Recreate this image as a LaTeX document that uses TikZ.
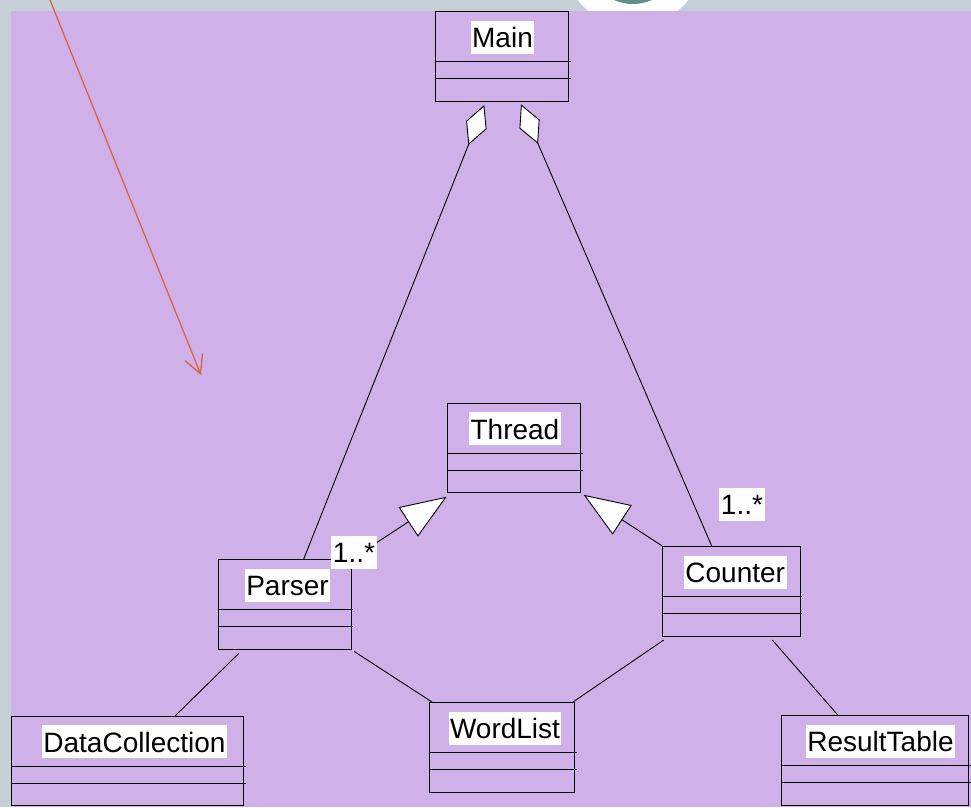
\documentclass[tikz,border=0pt]{standalone}
\usepackage{fontspec}
\setmainfont{Liberation Sans}
\usetikzlibrary{arrows.meta}

\definecolor{frameGrey}{HTML}{C5D0D6}
\definecolor{slidePurple}{HTML}{D0B0E8}
\definecolor{ringTeal}{HTML}{648C8C}
\definecolor{pointerRed}{HTML}{D9653F}

\tikzset{
  classframe/.style={draw=black, line width=1pt, inner sep=0pt,
    minimum height=89.5pt, anchor=north west},
  classrule/.style={draw=black, line width=0.9pt},
  classname/.style={fill=white, inner xsep=1.5pt, inner ysep=0pt,
    text height=27pt, text depth=6pt, font=\fontsize{28}{32}\selectfont,
    anchor=north},
  multlabel/.style={fill=white, inner xsep=1.5pt, inner ysep=0pt,
    text height=27pt, text depth=6pt, font=\fontsize{28}{32}\selectfont},
  assoc/.style={draw=black, line width=0.9pt},
  aggregation/.style={assoc, -{Diamond[fill=white, length=43pt, width=22pt]}},
  generalization/.style={assoc, -{Triangle[fill=white, length=46pt, width=35pt]}},
  pointer/.style={draw=pointerRed, line width=1.3pt,
    -{Straight Barb[length=18pt, width=19pt]}}
}

% UML class: name, x, y (top left), width, title, title x offset
\newcommand\classbox[6]{%
  \node[classframe, minimum width=#4pt] (#1) at (#2,#3) {};
  \draw[classrule] ([yshift=-50.5pt]#1.north west) -- ++(#4+2.5,0);
  \draw[classrule] ([yshift=-67.5pt]#1.north west) -- ++(#4+2.5,0);
  \node[classname] (#1-name) at ([xshift=#6pt, yshift=-9.3pt]#1.north) {#5};
}

\begin{document}
\begin{tikzpicture}[x=1pt, y=-1pt]
  \useasboundingbox (0,0) rectangle (971,807);

  % slide frame and logo
  \fill[frameGrey] (0,0) rectangle (971,807);
  \fill[white] (633,-43) circle[radius=70];
  \draw[ringTeal, line width=4pt] (633,-43) circle[radius=45];
  \fill[slidePurple] (11,11) rectangle (971,807);

  % pointer arrow
  \coordinate (pointer-start) at (50,0);
  \coordinate (pointer-end) at (201,375);
  \draw[pointer] (pointer-start) -- (pointer-end);

  % classes
  \classbox{main}{435}{11}{133}{Main}{0.5}
  \classbox{thread}{447}{402.7}{133.3}{Thread}{0.8}
  \classbox{parser}{217.7}{559}{133}{Parser}{2.8}
  \classbox{counter}{662.3}{546}{137.4}{Counter}{3.7}
  \classbox{datacoll}{11}{715.7}{232.3}{DataCollection}{6.8}
  \classbox{wordlist}{429}{702}{145}{WordList}{3}
  \classbox{result}{781}{715.3}{187}{ResultTable}{5.5}

  % aggregations to Main
  \draw[aggregation] ([shift={(86,0)}]parser.north west)
    -- ([shift={(49.3,3.5)}]main.south west);
  \draw[aggregation] ([shift={(49.4,0)}]counter.north west)
    -- ([shift={(86,2.8)}]main.south west);

  % generalizations to Thread
  \draw[generalization] (parser.north east)
    -- ([shift={(-0.3,3.5)}]thread.south west);
  \draw[generalization] (counter.north west)
    -- ([shift={(2.4,1.6)}]thread.south east);

  % associations
  \draw[assoc] ([shift={(21,4)}]parser.south west)
    -- ([shift={(164.3,0)}]datacoll.north west);
  \draw[assoc] ([shift={(2.6,2)}]parser.south east)
    -- ([shift={(3,0)}]wordlist.north west);
  \draw[assoc] ([shift={(1.4,3.5)}]counter.south west)
    -- ([shift={(-2,0)}]wordlist.north east);
  \draw[assoc] ([shift={(110,3.5)}]counter.south west)
    -- ([shift={(57,0)}]result.north west);

  % multiplicities
  \node[multlabel] (parser-mult) at (354,552) {1..*};
  \node[multlabel] (counter-mult) at (742,504) {1..*};
\end{tikzpicture}
\end{document}
